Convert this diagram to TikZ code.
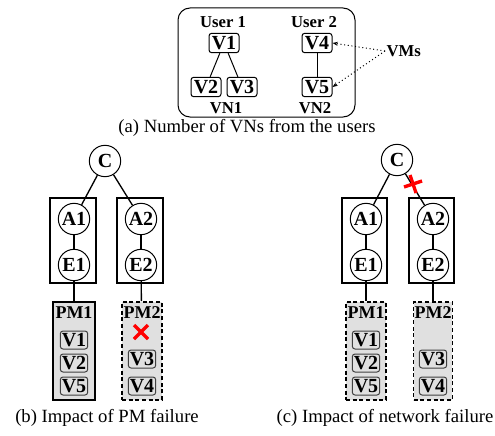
\documentclass[tikz,border=0pt]{standalone}
\usepackage{fontspec}
\setmainfont{Liberation Serif}
\usetikzlibrary{arrows.meta}

\tikzset{every picture/.style={line width=0.75pt}}

\begin{document}
\begin{tikzpicture}[x=0.75pt,y=0.75pt,yscale=-1,xscale=1,
    vbox/.style={draw, rounded corners=2pt, inner sep=0pt, minimum width=22.5pt, minimum height=14.5pt, font=\bfseries\fontsize{15}{15}\selectfont},
    pmv/.style={vbox, draw=black!75, minimum width=20.5pt, minimum height=13.5pt},
    sw/.style={draw, circle, inner sep=0pt, minimum size=23.5pt, font=\bfseries\fontsize{15}{15}\selectfont},
    lbl/.style={inner sep=0.75pt, font=\bfseries\fontsize{12.5}{12.5}\selectfont},
    capt/.style={inner sep=0.75pt, font=\fontsize{14}{16}\selectfont},
    link/.style={line width=1pt},
    rack/.style={draw, line width=1.2pt},
    pmbox/.style={draw, line width=1.2pt, fill={rgb, 255:red, 224; green, 224; blue, 224}, minimum height=73.5pt, inner sep=0pt},
    pmdown/.style={pmbox, dash pattern=on 3pt off 2pt},
    xmark/.style={draw=red, line width=2.5pt}
  ]
    \useasboundingbox (0,0) rectangle (495,435);

    %Shape: Rounded Rectangle VNs
    \draw [rounded corners=9pt] (178,8) rectangle (355,117);

    %Text: users and VNs
    \node [lbl] (u1) at (223,22) {User 1};
    \node [lbl] (u2) at (314,22) {User 2};
    \node [lbl] (vn1) at (226,108) {VN1};
    \node [lbl] (vn2) at (315,108) {VN2};

    %Shape: VMs of VN1 and VN2
    \node [vbox] (tv1) at (224,43) {V1};
    \node [vbox] (tv2) at (206,87) {V2};
    \node [vbox] (tv3) at (242,87) {V3};
    \node [vbox] (tv4) at (317,43) {V4};
    \node [vbox] (tv5) at (317,87) {V5};
    \draw (tv1) -- (tv2);
    \draw (tv1) -- (tv3);
    \draw (tv4) -- (tv5);

    %Text: VMs pointer
    \node [lbl, anchor=west] (vms) at (385,51) {VMs};
    \draw [dotted, -{Stealth[length=4pt,width=3pt]}] (vms.west) -- (tv4.east);
    \draw [dotted, -{Stealth[length=4pt,width=3pt]}] (vms.west) -- (tv5.east);

    \node [capt] (capa) at (247,128) {(a) Number of VNs from the users};

    %%%%%%%%%%%%%%%% (b) PM failure
    \draw [rack] (50,198) rectangle (96,283);
    \draw [rack] (117,198) rectangle (163,283);
    \node [sw] (bc) at (105,161) {C};
    \node [sw] (ba1) at (74,219) {A1};
    \node [sw] (be1) at (74,265) {E1};
    \node [sw] (ba2) at (141,219) {A2};
    \node [sw] (be2) at (141,265) {E2};
    \node [pmbox, minimum width=31.5pt] (bpm1) at (74,351) {};
    \node [pmdown, minimum width=30pt] (bpm2) at (142,351) {};
    \draw [link] (bc) -- (ba1);
    \draw [link] (bc) -- (ba2);
    \draw [link] (ba1) -- (be1);
    \draw [link] (ba2) -- (be2);
    \draw [link] (be1) -- (bpm1);
    \draw [link] (be2) -- (bpm2);

    \node [lbl, font=\bfseries\fontsize{13.5}{13.5}\selectfont] at (74,313) {PM1};
    \node [lbl, font=\bfseries\fontsize{13.5}{13.5}\selectfont] at (142,313) {PM2};
    \node [pmv] (bv1) at (74,340) {V1};
    \node [pmv] (bv2) at (74,363) {V2};
    \node [pmv] (bv5) at (74,386) {V5};
    \node [pmv] (bv3) at (142,359) {V3};
    \node [pmv] (bv4) at (142,386) {V4};

    %Shape: red cross PM2
    \coordinate (bx) at (141,332);
    \draw [xmark] ([shift={(-7,-7)}]bx) -- ([shift={(7,7)}]bx);
    \draw [xmark] ([shift={(-7,7)}]bx) -- ([shift={(7,-7)}]bx);

    \node [capt] (capb) at (107,418) {(b) Impact of PM failure};

    %%%%%%%%%%%%%%%% (c) network failure
    \draw [rack] (342,198) rectangle (387,283);
    \draw [rack] (409,198) rectangle (454,283);
    \node [sw] (cc) at (397,160) {C};
    \node [sw] (ca1) at (366,219) {A1};
    \node [sw] (ce1) at (366,265) {E1};
    \node [sw] (ca2) at (433,219) {A2};
    \node [sw] (ce2) at (433,265) {E2};
    \node [pmdown, minimum width=30pt] (cpm1) at (366,351) {};
    \node [pmdown, minimum width=29pt] (cpm2) at (433,351) {};
    \draw [link] (cc) -- (ca1);
    \draw [link] (cc) -- (ca2);
    \draw [link] (ca1) -- (ce1);
    \draw [link] (ca2) -- (ce2);
    \draw [link] (ce1) -- (cpm1);
    \draw [link] (ce2) -- (cpm2);

    \node [lbl, font=\bfseries\fontsize{13.5}{13.5}\selectfont] at (366,313) {PM1};
    \node [lbl, font=\bfseries\fontsize{13.5}{13.5}\selectfont] at (433,313) {PM2};
    \node [pmv] (cv1) at (366,340) {V1};
    \node [pmv] (cv2) at (366,363) {V2};
    \node [pmv] (cv5) at (366,386) {V5};
    \node [pmv] (cv3) at (433,359) {V3};
    \node [pmv] (cv4) at (433,386) {V4};

    %Shape: red cross on link C-A2
    \coordinate (cx) at (413,184);
    \draw [xmark] ([shift={(-9,3)}]cx) -- ([shift={(9,-3)}]cx);
    \draw [xmark] ([shift={(-3,-9)}]cx) -- ([shift={(3,9)}]cx);

    \node [capt] (capc) at (385,418) {(c) Impact of network failure};
\end{tikzpicture}
\end{document}
